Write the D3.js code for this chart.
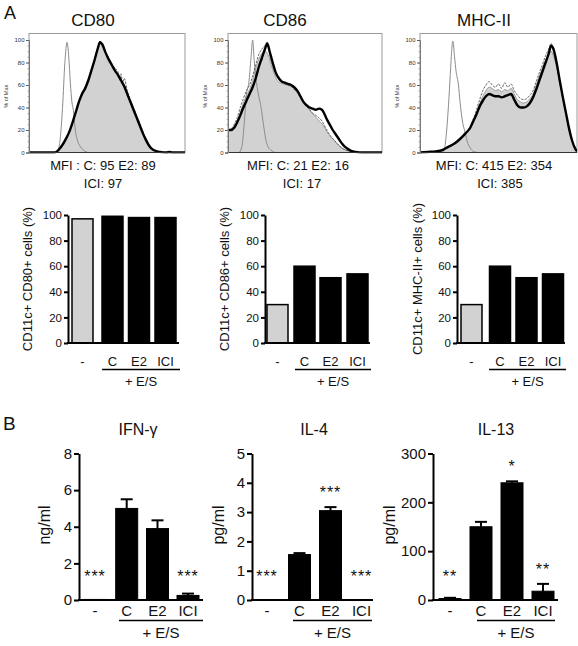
<!DOCTYPE html>
<html><head><meta charset="utf-8">
<script src="https://cdn.jsdelivr.net/npm/d3@7"></script>
<style>
body{margin:0;background:#fff}
svg{display:block}
text{font-family:"Liberation Sans",Arial,Helvetica,sans-serif;fill:#111}
</style>
</head><body>
<svg id="fig" width="578" height="646"></svg>
<script>
// ---------------- DATA ----------------
const groups = ["-", "C", "E2", "ICI"];
const histTicks = [0, 20, 40, 60, 80, 100];

// Histograms: [fluorescence position (0-100 of axis), % of max]
const cd80Iso = [[0,0],[17,0],[18.5,2],[20,12],[21.5,40],[23,80],[24.4,98],[25.5,85],[26.5,62],[27.5,45],[28.5,37],[29.5,22],[31,11],[33,5],[35,2],[38,0],[100,0]];
const cd80C = [[0,0],[16,0],[18,1],[20,4],[22,8],[24,13],[26,19],[28,27],[30,36],[32,45],[34,52],[36,57],[38,64],[40,73],[42,82],[44,92],[45.5,99],[47,96],[49,89],[51,83],[53,78],[55,73],[57,69],[59,65],[61,60],[63,53],[65,46],[67,39],[69,32],[71,25],[73,18],[75,12],[77,7],[79,3],[81,1.5],[84,0.5],[88,0],[100,0]];
const cd80E2 = [[0,0],[16,0],[18,1],[20,4],[22,8],[24,13],[26,19],[28,27],[30,36],[32,45],[34,53],[36,58],[38,65],[40,74],[42,83],[44,93],[45.5,98],[47,97],[49,90],[51,84],[53,79],[55,75],[57,72],[58,66],[59,70],[60,62],[61,66],[63,55],[65,47],[67,40],[69,33],[71,26],[73,19],[75,12],[77,7],[79,3],[81,1.5],[84,0.5],[88,0],[100,0]];
const cd80ICI = [[0,0],[16,0],[18,1],[20,4],[22,8],[24,13],[26,19],[28,27],[30,36],[32,45],[34,52],[36,57],[38,64],[40,73],[42,82],[44,92],[45.5,98],[47,96],[49,89],[51,83],[53,78],[55,73],[57,69],[59,64],[61,59],[63,52],[65,45],[67,38],[69,31],[71,24],[73,17],[75,11],[77,6],[79,3],[81,1.5],[84,0.5],[88,0],[90,0.5],[92,0],[100,0]];

const cd86Iso = [[0,0],[7,0],[9,5],[10.5,25],[12,52],[13.5,62],[15,85],[16,100],[17,82],[18.5,62],[20,50],[21.5,40],[23,25],[24.5,12],[26,5],[28,2],[31,0],[100,0]];
const cd86C = [[0,20],[2,20],[4,23],[6,28],[8,36],[10,44],[12,51],[14,56],[16,64],[18,75],[20,83],[22,88],[24,90],[26,87],[28,78],[30,70],[32,64],[34,62],[36,61],[38,60],[40,59],[42,58],[44,55],[46,52],[48,48],[50,44],[52,40],[54,36],[56,33],[58,30],[60,27],[62,24],[64,19],[66,15],[68,12],[70,9],[72,6],[74,4],[76,2.5],[78,1.5],[80,1],[83,0],[100,0]];
const cd86E2 = [[0,20],[2,21],[4,25],[6,31],[8,40],[10,48],[12,55],[14,60],[16,68],[18,78],[20,87],[22,92],[24,95],[25.5,98],[27,88],[29,77],[31,70],[33,65],[35,62],[37,61],[39,60],[41,59],[43,56],[45,53],[47,49],[49,45],[51,41],[53,38],[55,35],[57,33],[59,31],[61,28],[63,23],[65,18],[67,14],[69,11],[71,8],[73,5],[75,3],[78,1.5],[81,0.5],[85,0],[100,0]];
const cd86ICI = [[0,20],[2,20],[4,22],[6,27],[8,33],[10,40],[12,46],[14,52],[16,58],[18,66],[20,76],[22,84],[24,92],[25.5,97],[27,90],[29,80],[31,71],[33,66],[35,63],[37,62],[39,61],[41,60],[43,58],[45,55],[47,50],[49,45],[51,42],[53,40],[55,39],[57,38],[59,39],[61,38],[62,36],[64,30],[66,25],[68,20],[70,16],[72,12],[74,8],[76,5],[78,3],[80,1.5],[83,0.5],[87,0],[100,0]];

const mhcIso = [[0,0],[14,0],[15.5,3],[17,20],[18.5,50],[19.5,75],[20.9,99],[22,85],[23,72],[24.5,60],[25.5,45],[27,28],[28.7,18],[30.5,8],[32,4],[34,1],[37,0],[100,0]];
const mhcC = [[0,0],[5,0.5],[10,1],[14,2],[18,5],[22,8],[25.5,12],[29,17],[32,22],[34,28],[36,35],[38,43],[40,50],[42,55],[44,58],[46,57],[48,55],[50,56],[52,54],[54,56],[56,55],[58,57],[60,52],[62,47],[64,45],[66,44],[68,45],[70,48],[72,52],[74,60],[76,68],[78,75],[80,82],[82,87],[83.5,90],[85,86],[87,76],[89,62],[91,48],[93,34],[95,20],[97,10],[99,3],[100,1]];
const mhcE2 = [[0,0],[5,0.5],[10,1],[14,2],[18,5],[22,8],[25.5,12],[29,17],[32,23],[34,30],[36,38],[38,47],[40,55],[42,60],[44,63],[46,60],[48,58],[50,61],[52,57],[54,62],[56,58],[58,61],[60,55],[62,51],[64,48],[66,47],[68,48],[70,51],[72,55],[74,63],[76,71],[78,78],[80,86],[82,92],[83.5,97],[85,90],[87,78],[89,63],[91,48],[93,34],[95,20],[97,10],[99,3],[100,1]];
const mhcICI = [[0,0],[5,0.5],[10,1],[14,2],[18,5],[22,8],[25.5,12],[29,17],[32,22],[34,28],[36,34],[38,41],[40,46],[42,50],[44,52],[46,51],[48,50],[50,50],[52,49],[54,50],[56,51],[58,52],[60,47],[62,42],[64,40],[66,40],[68,41],[70,44],[72,49],[74,56],[76,64],[78,72],[80,80],[82,88],[83.5,95],[85,92],[87,80],[89,64],[91,49],[93,35],[95,21],[97,10],[99,3],[100,1]];

// Percent positive cells
const cd80Pct = [97, 99, 98, 98];
const cd86Pct = [30, 60, 51, 54];
const mhcPct  = [30, 60, 51, 54];
const pctTicks = [0, 20, 40, 60, 80, 100];

// Cytokines
const ifnVals  = [0.03, 5.0, 3.9, 0.25];
const ifnErr   = [0, 0.5, 0.45, 0.1];
const ifnStars = ["***", "", "", "***"];
const ifnTicks = [0, 2, 4, 6, 8];

const il4Vals  = [0, 1.55, 3.05, 0];
const il4Err   = [0, 0.05, 0.12, 0];
const il4Stars = ["***", "", "***", "***"];
const il4Ticks = [0, 1, 2, 3, 4, 5];

const il13Vals  = [3, 150, 240, 18];
const il13Err   = [1.5, 10, 3, 15];
const il13Stars = ["**", "", "*", "**"];
const il13Ticks = [0, 100, 200, 300];

// ---------------- DRAW ----------------
const svg = d3.select("#fig");
const fmt = d3.format("d");

svg.append("text").attr("x", 4).attr("y", 19).attr("font-size", 18).text("A");
svg.append("text").attr("x", 3).attr("y", 430).attr("font-size", 19).text("B");

let clipN = 0;
function histogram(o) {
  const x = d3.scaleLinear().domain([0, 100]).range([o.x0, o.x1]);
  const y = d3.scaleLinear().domain([0, 100]).range([152.5, 40]);
  const g = svg.append("g");
  const id = "clip" + (clipN++);
  g.append("clipPath").attr("id", id).append("rect")
    .attr("x", o.x0).attr("y", 33.5).attr("width", o.x1 - o.x0).attr("height", 152.5 - 33.5 + 1);

  g.append("rect").attr("x", o.x0).attr("y", 33.5).attr("width", o.x1 - o.x0).attr("height", 152.5 - 33.5)
    .attr("fill", "#fff").attr("stroke", "#9a9a9a").attr("stroke-width", 1);

  const cg = g.append("g").attr("clip-path", `url(#${id})`);
  const area = d3.area().x(d => x(d[0])).y0(y(0)).y1(d => y(d[1])).curve(d3.curveMonotoneX);
  const line = d3.line().x(d => x(d[0])).y(d => y(d[1])).curve(d3.curveMonotoneX);

  cg.append("path").attr("d", area(o.C)).attr("fill", "#d2d2d2").attr("stroke", "#8a8a8a").attr("stroke-width", 0.8);
  cg.append("path").attr("d", line(o.iso)).attr("fill", "none").attr("stroke", "#8c8c8c").attr("stroke-width", 1);
  cg.append("path").attr("d", line(o.E2)).attr("fill", "none").attr("stroke", "#555").attr("stroke-width", 0.9).attr("stroke-dasharray", "2.5,1.2");
  cg.append("path").attr("d", line(o.ICI)).attr("fill", "none").attr("stroke", "#000").attr("stroke-width", 2.4);

  g.append("line").attr("x1", o.x0).attr("x2", o.x1).attr("y1", 152.5).attr("y2", 152.5).attr("stroke", "#333").attr("stroke-width", 1.2);

  const ax = g.append("g").attr("transform", `translate(${o.x0},0)`)
    .call(d3.axisLeft(y).tickValues(histTicks).tickSize(3).tickPadding(1.5));
  ax.select(".domain").attr("stroke", "#777");
  ax.selectAll(".tick line").attr("stroke", "#555");
  ax.selectAll("text").attr("font-size", 6).style("fill", "#333");
  const minor = g.append("g").attr("transform", `translate(${o.x0},0)`)
    .call(d3.axisLeft(y).tickValues(d3.range(0, 101, 5)).tickSize(1.5).tickFormat(""));
  minor.select(".domain").remove();
  minor.selectAll(".tick line").attr("stroke", "#777").attr("stroke-width", 0.6);

  g.append("text").attr("transform", `translate(${o.x0 - 21},${(40 + 152.5) / 2}) rotate(-90)`)
    .attr("text-anchor", "middle").attr("font-size", 5.5).style("fill", "#333").text("% of Max");

  g.append("text").attr("x", o.titleX).attr("y", 26).attr("text-anchor", "middle").attr("font-size", 17).text(o.title);
  g.append("text").attr("x", o.mfiX).attr("y", 170).attr("text-anchor", "middle").attr("font-size", 13).text(o.mfi1);
  g.append("text").attr("x", o.mfiX2).attr("y", 187.5).attr("text-anchor", "middle").attr("font-size", 13).text(o.mfi2);
}

histogram({x0: 29, x1: 185, title: "CD80", titleX: 93, mfiX: 103, mfiX2: 103, mfi1: "MFI : C: 95 E2: 89", mfi2: "ICI: 97",
  iso: cd80Iso, C: cd80C, E2: cd80E2, ICI: cd80ICI});
histogram({x0: 228, x1: 382, title: "CD86", titleX: 285, mfiX: 298, mfiX2: 302, mfi1: "MFI: C: 21 E2: 16", mfi2: "ICI: 17",
  iso: cd86Iso, C: cd86C, E2: cd86E2, ICI: cd86ICI});
histogram({x0: 420, x1: 577, title: "MHC-II", titleX: 484, mfiX: 494, mfiX2: 500, mfi1: "MFI: C: 415 E2: 354", mfi2: "ICI: 385",
  iso: mhcIso, C: mhcC, E2: mhcE2, ICI: mhcICI});

function barChart(o) {
  const g = svg.append("g");
  const y = d3.scaleLinear().domain([0, o.max]).range([o.yBase, o.yTop]);
  const xs = d3.scaleOrdinal().domain(groups).range(o.centers);
  const w = o.barW;

  g.selectAll("rect.bar").data(o.vals).join("rect")
    .attr("x", (d, i) => xs(groups[i]) - w / 2)
    .attr("y", d => y(d))
    .attr("width", w)
    .attr("height", d => Math.max(0, o.yBase - y(d)))
    .attr("fill", (d, i) => i === 0 ? o.firstFill : "#000")
    .attr("stroke", "#000").attr("stroke-width", o.strokeW);

  if (o.err) {
    o.vals.forEach((v, i) => {
      if (!o.err[i]) return;
      const cx = xs(groups[i]);
      g.append("line").attr("x1", cx).attr("x2", cx).attr("y1", y(v)).attr("y2", y(v + o.err[i])).attr("stroke", "#000").attr("stroke-width", 2);
      g.append("line").attr("x1", cx - 6).attr("x2", cx + 6).attr("y1", y(v + o.err[i])).attr("y2", y(v + o.err[i])).attr("stroke", "#000").attr("stroke-width", 2);
    });
  }
  if (o.stars) {
    o.stars.forEach((s, i) => {
      if (!s) return;
      const top = y(o.vals[i] + (o.err ? o.err[i] : 0));
      const cy = Math.min(top - 17, o.yBase - 26);
      g.append("text").attr("x", xs(groups[i])).attr("y", cy + 8).attr("text-anchor", "middle")
        .attr("font-size", 16).attr("letter-spacing", 1).text(s);
    });
  }

  const ax = g.append("g").attr("transform", `translate(${o.axisX},0)`)
    .call(d3.axisLeft(y).tickValues(o.ticks).tickFormat(fmt).tickSize(o.tickLen).tickPadding(2).tickSizeOuter(0));
  ax.select(".domain").attr("stroke", "#000").attr("stroke-width", 2);
  ax.selectAll(".tick line").attr("stroke", "#000").attr("stroke-width", 2);
  ax.selectAll("text").attr("font-size", o.tickFont).style("fill", "#111");

  g.append("line").attr("x1", o.axisX - 1).attr("x2", o.xEnd).attr("y1", o.yBase).attr("y2", o.yBase)
    .attr("stroke", "#000").attr("stroke-width", 2);

  g.selectAll("text.cat").data(groups).join("text").attr("class", "cat")
    .attr("x", d => xs(d)).attr("y", o.catY).attr("text-anchor", "middle").attr("font-size", o.catFont).text(d => d);

  g.append("line").attr("x1", o.lineX0).attr("x2", o.lineX1).attr("y1", o.lineY).attr("y2", o.lineY).attr("stroke", "#000").attr("stroke-width", 1.3);
  g.append("text").attr("x", (o.lineX0 + o.lineX1) / 2).attr("y", o.esY).attr("text-anchor", "middle").attr("font-size", o.catFont).text("+ E/S");

  g.append("text").attr("transform", `translate(${o.labX},${o.labY}) rotate(-90)`).attr("text-anchor", "middle")
    .attr("font-size", o.labFont).text(o.label);

  if (o.title) g.append("text").attr("x", o.titleX).attr("y", 435).attr("text-anchor", "middle").attr("font-size", 16).text(o.title);
}

const aCommon = {max: 100, yBase: 343, yTop: 215, ticks: pctTicks, barW: 21, strokeW: 1.5, firstFill: "#d2d2d2",
  tickLen: 4, tickFont: 11.5, catY: 366, catFont: 13, lineY: 369.5, esY: 386, labFont: 13, labY: 279};
barChart(Object.assign({}, aCommon, {vals: cd80Pct, axisX: 68, centers: [82.5, 112.5, 139, 165.5], xEnd: 179,
  lineX0: 102, lineX1: 180, labX: 32, label: "CD11c+ CD80+ cells (%)"}));
barChart(Object.assign({}, aCommon, {vals: cd86Pct, axisX: 265, centers: [277.5, 304.5, 330.5, 357.5], xEnd: 370,
  lineX0: 295, lineX1: 371, labX: 229, label: "CD11c+ CD86+ cells (%)"}));
barChart(Object.assign({}, aCommon, {vals: mhcPct, axisX: 457, centers: [471.5, 500, 526.5, 553], xEnd: 565,
  lineX0: 489, lineX1: 566, labX: 422, label: "CD11c+ MHC-II+ cells (%)"}));

const bCommon = {yBase: 600, yTop: 453.5, barW: 22, strokeW: 1, firstFill: "#000", tickLen: 5, tickFont: 15,
  catY: 615.5, catFont: 15, lineY: 620.5, esY: 638, labFont: 16, labY: 525};
barChart(Object.assign({}, bCommon, {max: 8, vals: ifnVals, err: ifnErr, stars: ifnStars, ticks: ifnTicks, axisX: 79,
  centers: [95, 126.7, 157.5, 188], xEnd: 203, lineX0: 119, lineX1: 203, labX: 50, label: "ng/ml", title: "IFN-γ", titleX: 138}));
barChart(Object.assign({}, bCommon, {max: 5, vals: il4Vals, err: il4Err, stars: il4Stars, ticks: il4Ticks, axisX: 252,
  centers: [267, 299.5, 330.5, 361.5], xEnd: 373, lineX0: 293, lineX1: 372, labX: 224, label: "pg/ml", title: "IL-4", titleX: 314}));
barChart(Object.assign({}, bCommon, {max: 300, vals: il13Vals, err: il13Err, stars: il13Stars, ticks: il13Ticks, axisX: 433,
  centers: [450, 481, 512, 543], xEnd: 558, lineX0: 477, lineX1: 555, labX: 395, label: "pg/ml", title: "IL-13", titleX: 496}));
</script>
</body></html>
